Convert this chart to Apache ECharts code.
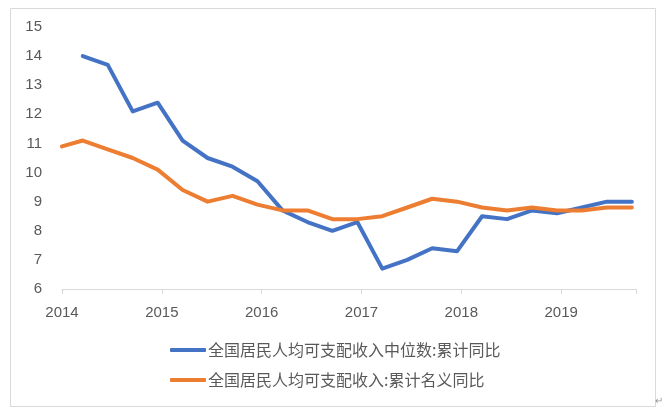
<!DOCTYPE html>
<html><head><meta charset="utf-8">
<script src="https://cdn.jsdelivr.net/npm/echarts@6/dist/echarts.min.js"></script>
<style>html,body{margin:0;padding:0;background:#fff}#c{width:668px;height:416px}</style>
</head><body><div id="c"></div>
<script>
// Quarter-end months (plotted at month centre)
var quarterMonths = ['2014-03','2014-06','2014-09','2014-12','2015-03','2015-06','2015-09','2015-12',
  '2016-03','2016-06','2016-09','2016-12','2017-03','2017-06','2017-09','2017-12',
  '2018-03','2018-06','2018-09','2018-12','2019-03','2019-06','2019-09'];
var medianGrowth = [14.0,13.7,12.1,12.4,11.1,10.5,10.2,9.7,8.7,8.3,8.0,8.3,6.7,7.0,7.4,7.3,8.5,8.4,8.7,8.6,8.8,9.0,9.0];
var nominalStartValue = 10.9; // value at the start of the axis (2014)
var nominalGrowth = [11.1,10.8,10.5,10.1,9.4,9.0,9.2,8.9,8.7,8.7,8.4,8.4,8.5,8.8,9.1,9.0,8.8,8.7,8.8,8.7,8.7,8.8,8.8];
var yearLabels = [2014,2015,2016,2017,2018,2019];
var seriesNames = ['全国居民人均可支配收入中位数:累计同比','全国居民人均可支配收入:累计名义同比'];

function toYear(s){var p=s.split('-');return +p[0]+(+p[1]-0.5)/12;}
var xs = quarterMonths.map(toYear);
var blueData = xs.map(function(x,i){return [x, medianGrowth[i]];});
var orangeData = [[yearLabels[0], nominalStartValue]].concat(xs.map(function(x,i){return [x, nominalGrowth[i]];}));

var chart = echarts.init(document.getElementById('c'), null, {renderer:'canvas'});
var txt = '#595959';
chart.setOption({
  animation:false,
  backgroundColor:'#fff',
  grid:{left:62, right:32, top:27, bottom:127, containLabel:false},
  xAxis:{type:'value', min:2014, max:2019.75, interval:1,
    axisLine:{show:true, lineStyle:{color:'#d9d9d9', width:1}},
    axisTick:{show:true, length:5, lineStyle:{color:'#d9d9d9'}},
    splitLine:{show:false},
    axisLabel:{color:txt, fontSize:15, fontFamily:'Liberation Sans', margin:16,
      formatter:function(v){return yearLabels.indexOf(v)>=0 ? String(v) : '';}}
  },
  yAxis:{type:'value', min:6, max:15, interval:1,
    axisLine:{show:false}, axisTick:{show:false}, splitLine:{show:false},
    axisLabel:{color:txt, fontSize:15, fontFamily:'Liberation Sans', margin:20}
  },
  legend:{orient:'vertical', left:165, top:336, itemGap:12, itemWidth:36, itemHeight:4,
    icon:'roundRect',
    textStyle:{color:txt, fontSize:16, fontFamily:'Noto Sans CJK SC', padding:[0,0,0,-3], lineHeight:18},
    data:seriesNames},
  series:[
    {name:seriesNames[0], type:'line', data:blueData, symbol:'none', showSymbol:false,
      lineStyle:{color:'#4472C4', width:4, cap:'round', join:'round'}, itemStyle:{color:'#4472C4'}},
    {name:seriesNames[1], type:'line', data:orangeData, symbol:'none', showSymbol:false,
      lineStyle:{color:'#ED7D31', width:4, cap:'round', join:'round'}, itemStyle:{color:'#ED7D31'}}
  ],
  graphic:[
    {type:'rect', shape:{x:10.5, y:8.5, width:645, height:398}, style:{fill:'none', stroke:'#d9d9d9', lineWidth:1}, silent:true, z:-1},
    {type:'text', left:655, top:396, style:{text:'↵', fill:'#999', fontSize:10}}
  ]
});
</script></body></html>
